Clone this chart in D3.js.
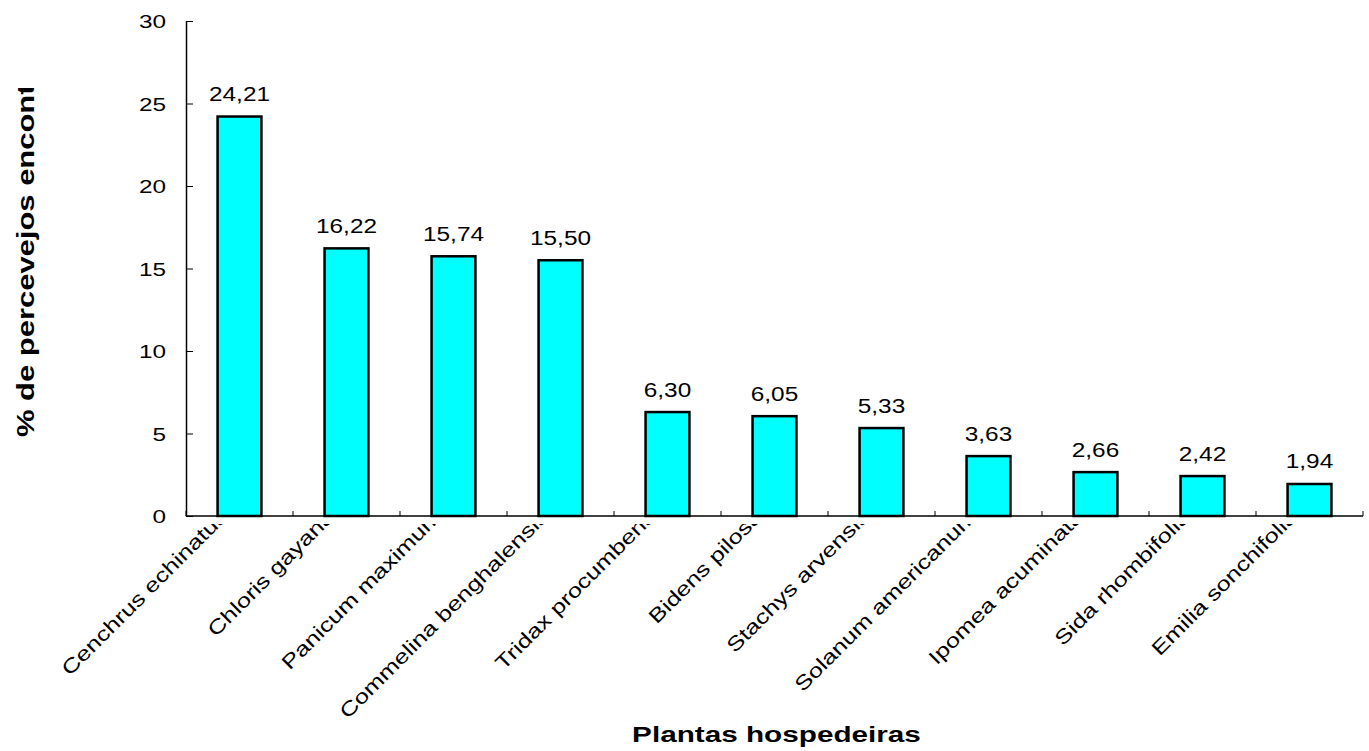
<!DOCTYPE html>
<html><head><meta charset="utf-8">
<script src="https://cdn.jsdelivr.net/npm/d3@7"></script>
<style>
body{margin:0;background:#fff}
svg{display:block}
text{font-family:"Liberation Sans",Arial,sans-serif;fill:#000}
</style>
</head><body>
<svg id="chart" width="1369" height="751"></svg>
<script>
const categories = ["Cenchrus echinatus","Chloris gayana","Panicum maximum","Commelina benghalensis","Tridax procumbens","Bidens pilosa","Stachys arvensis","Solanum americanum","Ipomea acuminata","Sida rhombifolia","Emilia sonchifolia"];
const values = [24.21,16.22,15.74,15.50,6.30,6.05,5.33,3.63,2.66,2.42,1.94];
const valueLabels = ["24,21","16,22","15,74","15,50","6,30","6,05","5,33","3,63","2,66","2,42","1,94"];
const yTicks = [0,5,10,15,20,25,30];
const xTitle = "Plantas hospedeiras";
const yTitle = "% de percevejos encontrados";

(function(){
const svg = d3.select("#chart");
const W = 1369, H = 751;
const mLeft = 186, mRight = 1363, mTop = 21, mBottom = 516;

svg.append("rect").attr("width", W).attr("height", H).attr("fill", "#fff");

const defs = svg.append("defs");
defs.append("clipPath").attr("id","catClip").append("rect")
  .attr("x",0).attr("y",mBottom+8).attr("width",W).attr("height",H);
defs.append("clipPath").attr("id","yTitleClip").append("rect")
  .attr("x",0).attr("y",88).attr("width",W).attr("height",H);

const x = d3.scaleBand().domain(categories).range([mLeft, mRight]).padding(0);
const y = d3.scaleLinear().domain([0, 30]).range([mBottom, mTop]);
const barW = x.bandwidth() * 0.41;

const data = categories.map((c, i) => ({c, v: values[i], lab: valueLabels[i]}));

// bars
svg.append("g").selectAll("rect").data(data).join("rect")
  .attr("x", d => x(d.c) + x.bandwidth()/2 - barW/2)
  .attr("y", d => y(d.v))
  .attr("width", barW)
  .attr("height", d => y(0) - y(d.v))
  .attr("fill", "#00FFFF")
  .attr("stroke", "#000")
  .attr("stroke-width", 2.5);

// value labels
svg.append("g").selectAll("text").data(data).join("text")
  .attr("transform", d => `translate(${x(d.c) + x.bandwidth()/2},${y(d.v) - 15.5}) scale(1.25,1)`)
  .attr("text-anchor", "middle")
  .attr("font-size", 19.5)
  .text(d => d.lab);

// y axis
const yAxis = d3.axisLeft(y).tickValues(yTicks).tickSize(-7).tickSizeOuter(0).tickPadding(19);
const gy = svg.append("g").attr("transform", `translate(${mLeft},0)`).call(yAxis);
gy.attr("font-family", null).attr("font-size", null);
gy.select(".domain").attr("stroke", "#000").attr("stroke-width", 1.5);
gy.selectAll(".tick line").attr("stroke", "#000").attr("stroke-width", 1);
gy.selectAll(".tick text")
  .attr("x", null).attr("dy", null)
  .attr("transform", "translate(-20,6.5) scale(1.28,1)")
  .attr("text-anchor", "end")
  .attr("font-size", 19)
  .attr("fill", "#000");

// x axis line
svg.append("line")
  .attr("x1", mLeft).attr("x2", mRight)
  .attr("y1", y(0)).attr("y2", y(0))
  .attr("stroke", "#000").attr("stroke-width", 1.5);

// x ticks at category boundaries
const bounds = categories.map(c => x(c)).concat([x.range()[1]]);
svg.append("g").selectAll("line").data(bounds).join("line")
  .attr("x1", d => d).attr("x2", d => d)
  .attr("y1", y(0)).attr("y2", y(0) - 5)
  .attr("stroke", "#000").attr("stroke-width", 1);

// category labels
svg.append("g").attr("clip-path", "url(#catClip)")
  .selectAll("text").data(categories).join("text")
  .attr("transform", d => `translate(${x(d) + x.bandwidth()/2 - 11},${mBottom + 2}) rotate(-45) scale(1.27,1)`)
  .attr("text-anchor", "end")
  .attr("font-size", 20)
  .text(d => d);

// x title
svg.append("text")
  .attr("transform", `translate(${(mLeft + mRight)/2 + 2},742) scale(1.35,1)`)
  .attr("text-anchor", "middle")
  .attr("font-size", 22)
  .attr("font-weight", "bold")
  .text(xTitle);

// y title
svg.append("g").attr("clip-path", "url(#yTitleClip)")
  .append("text")
  .attr("transform", `translate(34,437) rotate(-90) scale(1.29,1)`)
  .attr("text-anchor", "start")
  .attr("font-size", 24)
  .attr("font-weight", "bold")
  .text(yTitle);
})();
</script>
</body></html>
